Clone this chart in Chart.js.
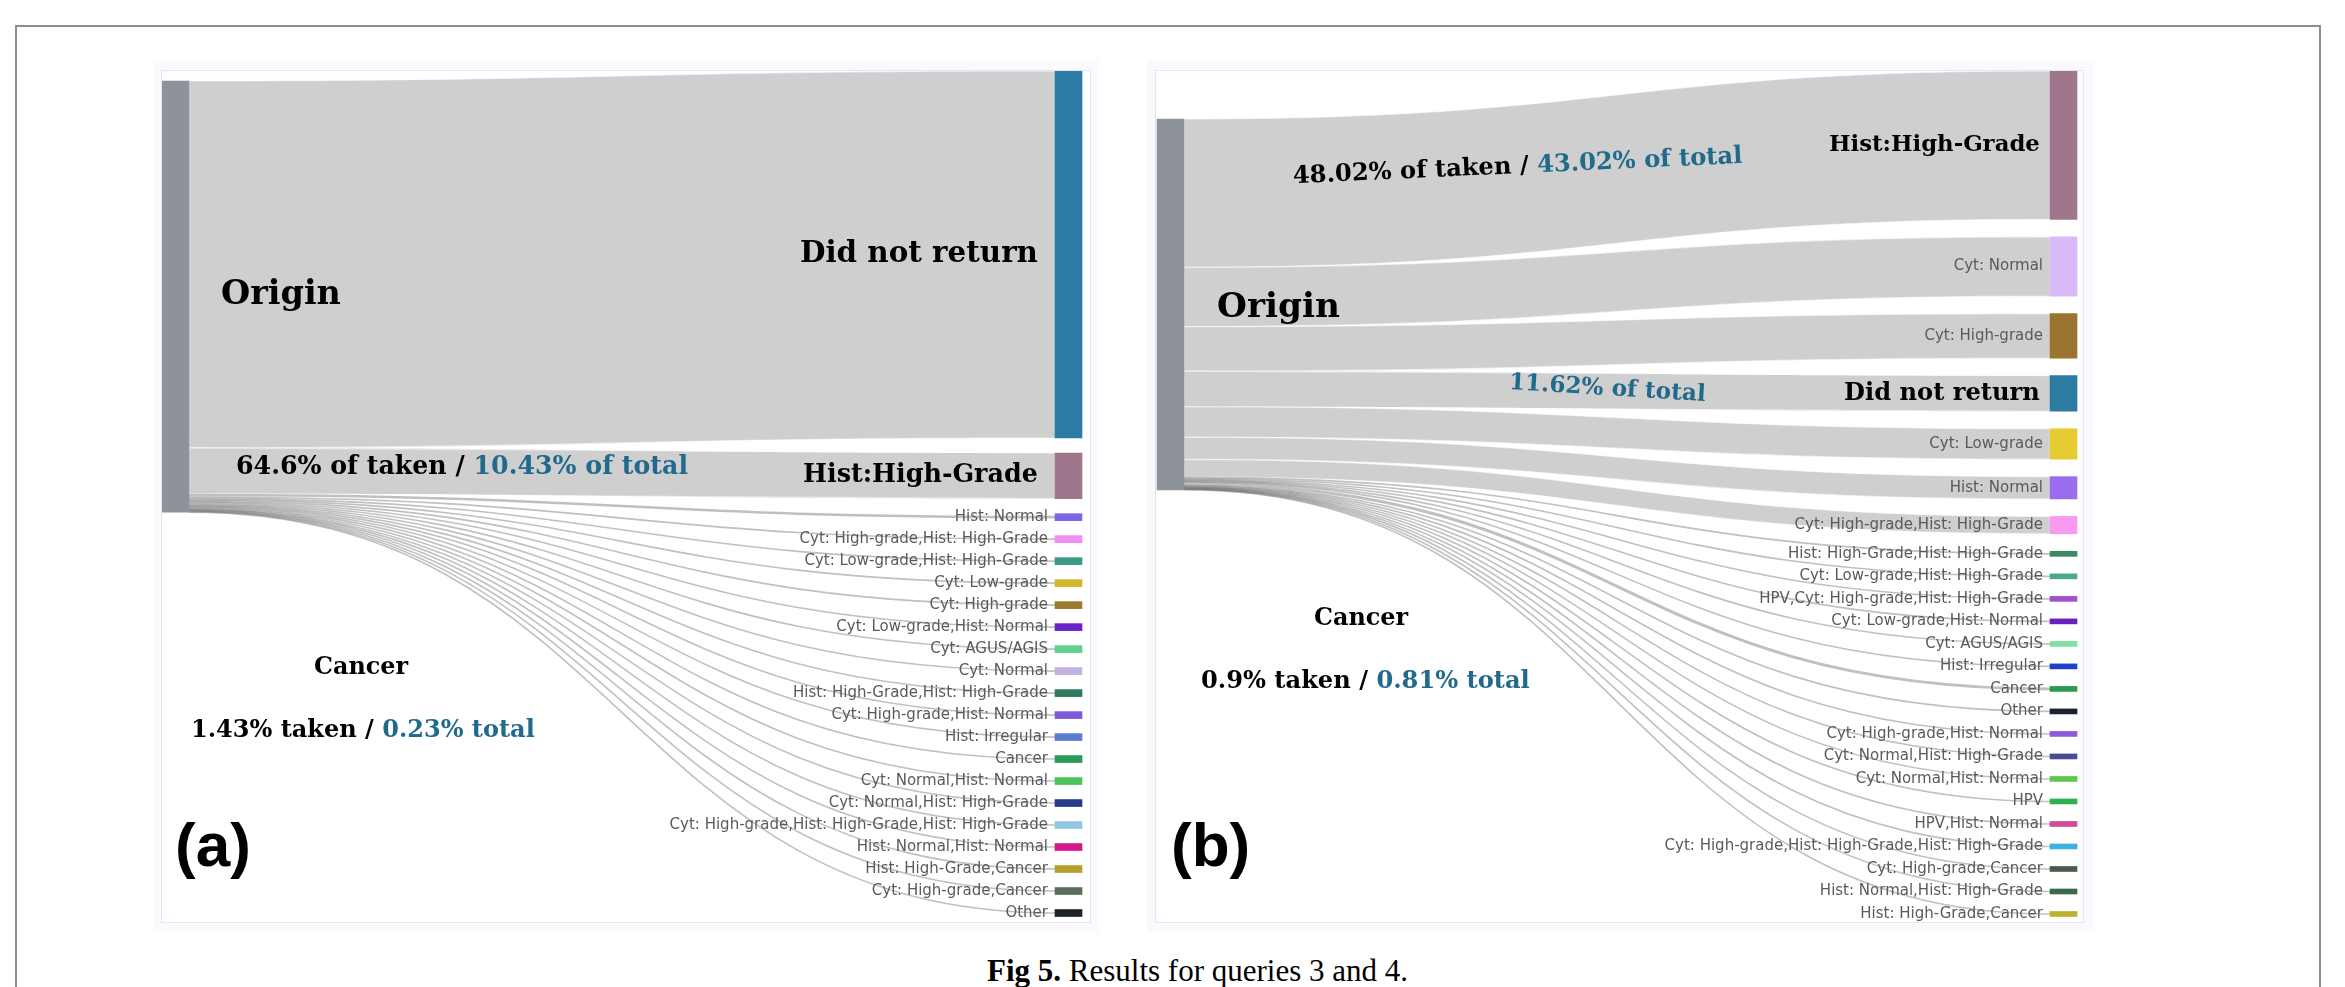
<!DOCTYPE html>
<html>
<head>
<meta charset="utf-8">
<script src="https://cdn.jsdelivr.net/npm/chart.js@4.4.1/dist/chart.umd.min.js"></script>
<style>
  body { margin: 0; width: 2345px; height: 987px; background: #fff; overflow: hidden; position: relative; }
  #frame { position: absolute; left: 15px; top: 25px; width: 2306px; height: 1000px; border: 2px solid #8e8e8e; box-sizing: border-box; }
  .outer { position: absolute; background: #fcf9fe; }
  .inner { position: absolute; background: #fff; border: 1.5px solid #e0e7f0; box-sizing: border-box; }
  canvas { position: absolute; }
  #caption { position: absolute; left: 987px; top: 955px; font: 31px/31px "Liberation Serif", serif; color: #000; white-space: nowrap; }
</style>
</head>
<body>
<div id="frame"></div>
<div class="outer" style="left:153px;top:60px;width:945px;height:872px"></div>
<div class="inner" style="left:161px;top:70px;width:930px;height:853px"></div>
<div class="outer" style="left:1147px;top:60px;width:948px;height:872px"></div>
<div class="inner" style="left:1155px;top:70px;width:929px;height:853px"></div>
<canvas id="chartA" width="928" height="851" style="left:162px;top:71px"></canvas>
<canvas id="chartB" width="927" height="851" style="left:1156px;top:71px"></canvas>
<div id="caption"><b>Fig 5.</b> Results for queries 3 and 4.</div>

<script>
// ---- panel (a): query 3, share of all patients (%) ----
const targetsA = ['Did not return', 'Hist:High-Grade', 'Hist: Normal', 'Cyt: High-grade,Hist: High-Grade',
  'Cyt: Low-grade,Hist: High-Grade', 'Cyt: Low-grade', 'Cyt: High-grade', 'Cyt: Low-grade,Hist: Normal',
  'Cyt: AGUS/AGIS', 'Cyt: Normal', 'Hist: High-Grade,Hist: High-Grade', 'Cyt: High-grade,Hist: Normal',
  'Hist: Irregular', 'Cancer', 'Cyt: Normal,Hist: Normal', 'Cyt: Normal,Hist: High-Grade',
  'Cyt: High-grade,Hist: High-Grade,Hist: High-Grade', 'Hist: Normal,Hist: Normal', 'Hist: High-Grade,Cancer',
  'Cyt: High-grade,Cancer', 'Other'];
const valuesA = [85.1, 10.6, 0.6, 0.35, 0.3, 0.28, 0.27, 0.25, 0.24, 0.23, 0.22, 0.2, 0.18, 0.23,
  0.17, 0.16, 0.15, 0.14, 0.13, 0.12, 0.1];
const colorsA = ['#2b7ba3', '#a0768d', '#7f66e6', '#f28cf2', '#3a9a88', '#d6b62c', '#9a7a30', '#6a22c8',
  '#5ed28e', '#c4b2e4', '#2e7a5a', '#7d5ad8', '#5a7ed0', '#2a9a5a', '#4cc45c', '#2a3a88', '#90c8e0',
  '#d6178a', '#b8a02e', '#5b6e5c', '#1e2428'];

// ---- panel (b): query 4 ----
const targetsB = ['Hist:High-Grade', 'Cyt: Normal', 'Cyt: High-grade', 'Did not return', 'Cyt: Low-grade',
  'Hist: Normal', 'Cyt: High-grade,Hist: High-Grade', 'Hist: High-Grade,Hist: High-Grade',
  'Cyt: Low-grade,Hist: High-Grade', 'HPV,Cyt: High-grade,Hist: High-Grade', 'Cyt: Low-grade,Hist: Normal',
  'Cyt: AGUS/AGIS', 'Hist: Irregular', 'Cancer', 'Other', 'Cyt: High-grade,Hist: Normal',
  'Cyt: Normal,Hist: High-Grade', 'Cyt: Normal,Hist: Normal', 'HPV', 'HPV,Hist: Normal',
  'Cyt: High-grade,Hist: High-Grade,Hist: High-Grade', 'Cyt: High-grade,Cancer',
  'Hist: Normal,Hist: High-Grade', 'Hist: High-Grade,Cancer'];
const valuesB = [40.0, 16.0, 12.0, 9.6, 8.2, 6.0, 4.7, 0.3, 0.28, 0.25, 0.22, 0.2, 0.2, 0.81, 0.18,
  0.16, 0.15, 0.14, 0.13, 0.12, 0.11, 0.1, 0.09, 0.08];
const colorsB = ['#a0768d', '#d8baf9', '#9a7530', '#2b7ba3', '#e6cc32', '#9a6cf0', '#f899f2', '#3a8a64',
  '#4aa890', '#a050d0', '#6a20c0', '#80e0a0', '#2040c8', '#2a9a50', '#1a2030', '#8a5ad8', '#4a4a98',
  '#5ac84a', '#30b050', '#d04a9a', '#40b0e0', '#4a5a4a', '#3a6a4a', '#c0b030'];

const BLUE = '#216a8c';
const SERIF = '"DejaVu Serif", serif';
const NODE_W = 27;

function fitText(ctx, parts, x, y, width, align, rotate) {
    ctx.save();
    ctx.font = 'bold 20px ' + SERIF;
    const w20 = parts.reduce((s, p) => s + ctx.measureText(p[0]).width, 0);
    ctx.font = 'bold ' + (20 * width / w20) + 'px ' + SERIF;
    ctx.translate(x, y);
    if (rotate) ctx.rotate(rotate * Math.PI / 180);
    let cx = align === 'right' ? -width : align === 'center' ? -width / 2 : 0;
    ctx.textBaseline = 'middle';
    ctx.textAlign = 'left';
    parts.forEach(p => {
        ctx.fillStyle = p[1];
        ctx.fillText(p[0], cx, 0);
        cx += ctx.measureText(p[0]).width;
    });
    ctx.restore();
}

function buildSankey(canvasId, targets, values, colors, opts) {
    const total = values.reduce((a, b) => a + b, 0);
    let cur = 0;
    const nodes = values.map(v => {
        const size = Math.max(v, opts.minNode);
        const n = {y0: cur, y1: cur + size};
        cur += size + opts.pad;
        return n;
    });
    const colTotal = cur - opts.pad;
    let oy = opts.originTop;
    const flows = values.map((v, i) => {
        const n = nodes[i];
        const t0 = n.y0 + (n.y1 - n.y0 - v) / 2;
        const f = {s0: oy, s1: oy + v, t0: t0, t1: t0 + v};
        oy += v;
        return f;
    });

    const datasets = [{
        data: [[opts.originTop, opts.originTop + total], null],
        backgroundColor: '#8e939b', grouped: false, barThickness: NODE_W, clip: false
    }];
    nodes.forEach((n, i) => datasets.push({
        data: [null, [n.y0, n.y1]],
        backgroundColor: colors[i], grouped: false, barThickness: NODE_W, clip: false
    }));

    const sankeyPlugin = {
        id: 'sankeyFlows',
        beforeDatasetsDraw(chart) {
            const ctx = chart.ctx, xs = chart.scales.x, ys = chart.scales.y;
            const x0 = xs.getPixelForValue(0) + NODE_W / 2;
            const x1 = xs.getPixelForValue(1) - NODE_W / 2;
            const xm = (x0 + x1) / 2;
            const Y = v => ys.getPixelForValue(v);
            ctx.save();
            flows.forEach(f => {
                const w = Y(f.s1) - Y(f.s0);
                if (w >= 4) {
                    ctx.beginPath();
                    ctx.moveTo(x0, Y(f.s0));
                    ctx.bezierCurveTo(xm, Y(f.s0), xm, Y(f.t0), x1, Y(f.t0));
                    ctx.lineTo(x1, Y(f.t1));
                    ctx.bezierCurveTo(xm, Y(f.t1), xm, Y(f.s1), x0, Y(f.s1));
                    ctx.closePath();
                    ctx.fillStyle = 'rgba(160,160,160,0.5)';
                    ctx.fill();
                    ctx.strokeStyle = 'rgba(255,255,255,0.55)';
                    ctx.lineWidth = 1.2;
                    ctx.stroke();
                } else {
                    const a = Y((f.s0 + f.s1) / 2), b = Y((f.t0 + f.t1) / 2);
                    ctx.beginPath();
                    ctx.moveTo(x0, a);
                    ctx.bezierCurveTo(xm, a, xm, b, x1, b);
                    ctx.strokeStyle = 'rgba(105,105,105,0.42)';
                    ctx.lineWidth = Math.max(w, 1.6);
                    ctx.stroke();
                }
            });
            ctx.restore();
        },
        afterDatasetsDraw(chart) {
            const ctx = chart.ctx, xs = chart.scales.x, ys = chart.scales.y;
            const xl = xs.getPixelForValue(1) - NODE_W / 2;
            targets.forEach((t, i) => {
                const yc = ys.getPixelForValue((nodes[i].y0 + nodes[i].y1) / 2);
                const big = opts.bigLabels[t];
                if (big) {
                    fitText(ctx, [[t, '#000']], xl - big.gap, yc, big.w, 'right');
                } else {
                    ctx.save();
                    ctx.font = '15px "DejaVu Sans", sans-serif';
                    ctx.fillStyle = '#5a5a5a';
                    ctx.textAlign = 'right';
                    ctx.textBaseline = 'middle';
                    ctx.fillText(t, xl - 7, yc);
                    ctx.restore();
                }
            });
            opts.notes.forEach(n => fitText(ctx, n.parts, n.x, n.y, n.w, n.align || 'left', n.rot));
            ctx.save();
            ctx.font = 'bold 62px "Liberation Sans", Arial, sans-serif';
            ctx.fillStyle = '#000';
            ctx.textBaseline = 'middle';
            ctx.fillText(opts.tag, opts.tagX, 778);
            ctx.restore();
        }
    };

    return new Chart(document.getElementById(canvasId), {
        type: 'bar',
        data: {labels: ['Origin', 'Outcome'], datasets: datasets},
        options: {
            responsive: false,
            animation: false,
            layout: {padding: opts.padding},
            plugins: {legend: {display: false}, tooltip: {enabled: false}},
            scales: {
                x: {type: 'category', offset: false, display: false, grid: {display: false}},
                y: {min: 0, max: colTotal, reverse: true, display: false}
            }
        },
        plugins: [sankeyPlugin]
    });
}

buildSankey('chartA', targetsA, valuesA, colorsA, {
    minNode: 1.62, pad: 3.48, originTop: 2.32,
    padding: {left: 13.5, right: 21.5, top: 0, bottom: 5.5},
    bigLabels: {'Did not return': {w: 238, gap: 17}, 'Hist:High-Grade': {w: 235, gap: 17}},
    tag: '(a)', tagX: 13,
    notes: [
        {parts: [['Origin', '#000']], x: 59, y: 224, w: 120},
        {parts: [['64.6% of taken / ', '#000'], ['10.43% of total', BLUE]], x: 74, y: 396, w: 452},
        {parts: [['Cancer', '#000']], x: 199, y: 597, w: 94, align: 'center'},
        {parts: [['1.43% taken / ', '#000'], ['0.23% total', BLUE]], x: 29, y: 660, w: 344}
    ]
});

buildSankey('chartB', targetsB, valuesB, colorsB, {
    minNode: 1.35, pad: 4.72, originTop: 12.94,
    padding: {left: 14.5, right: 19.5, top: 0, bottom: 5.5},
    bigLabels: {'Did not return': {w: 196, gap: 10}, 'Hist:High-Grade': {w: 211, gap: 10}},
    tag: '(b)', tagX: 15,
    notes: [
        {parts: [['Origin', '#000']], x: 61, y: 237, w: 123},
        {parts: [['48.02% of taken / ', '#000'], ['43.02% of total', BLUE]], x: 137, y: 106, w: 450, rot: -2.6},
        {parts: [['11.62% of total', BLUE]], x: 353, y: 312, w: 197, rot: 3.5},
        {parts: [['Cancer', '#000']], x: 205, y: 548, w: 94, align: 'center'},
        {parts: [['0.9% taken / ', '#000'], ['0.81% total', BLUE]], x: 45, y: 611, w: 329}
    ]
});
</script>
</body>
</html>
